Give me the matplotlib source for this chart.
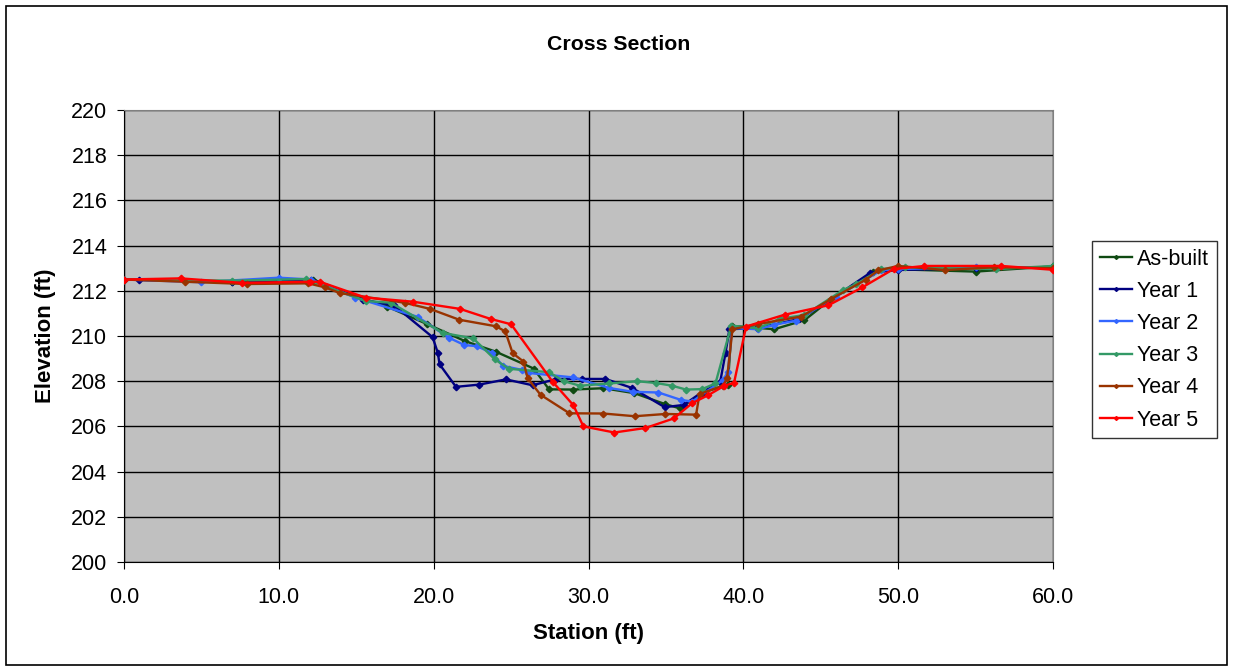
import matplotlib.pyplot as plt
from matplotlib.patches import Rectangle

plt.rcParams['font.family'] = ['Liberation Sans', 'DejaVu Sans']

# station (ft), elevation (ft) for each survey
asbuilt_x = [0.0, 7.0, 12.2, 15.5, 17.0, 19.6, 22.0, 24.0, 26.46, 27.45, 28.98, 30.96, 32.97,
             34.97, 35.9, 37.4, 39.0, 39.25, 42.0, 43.95, 45.46, 48.35, 50.0, 55.0, 60.0]
asbuilt_y = [212.5, 212.4, 212.5, 211.65, 211.3, 210.52, 209.78, 209.31, 208.56, 207.64, 207.63,
             207.69, 207.47, 206.98, 206.8, 207.5, 207.85, 210.45, 210.3, 210.7, 211.52, 212.82,
             212.95, 212.85, 213.08]

year1_x = [0.0, 1.0, 7.0, 12.1, 15.45, 17.45, 19.93, 20.27, 20.38, 21.44, 22.95, 24.67, 26.39,
           27.93, 29.58, 31.09, 32.82, 34.92, 36.15, 37.3, 38.5, 38.85, 39.1, 40.9, 43.6, 45.46,
           48.2, 50.0, 55.0, 60.0]
year1_y = [212.5, 212.48, 212.4, 212.5, 211.6, 211.35, 209.95, 209.25, 208.75, 207.75, 207.85,
           208.08, 207.82, 208.1, 208.1, 208.1, 207.7, 206.85, 206.95, 207.5, 207.95, 209.25,
           210.3, 210.35, 210.75, 211.52, 212.8, 212.92, 213.0, 213.05]

year2_x = [0.0, 5.0, 10.0, 12.07, 14.93, 18.96, 20.97, 21.98, 22.8, 23.77, 24.46, 25.7, 26.07,
           28.98, 31.35, 32.86, 34.52, 35.98, 36.7, 38.68, 39.0, 39.28, 40.94, 42.0, 43.4, 45.96,
           48.9, 50.0, 55.0, 60.0]
year2_y = [212.5, 212.38, 212.58, 212.5, 211.7, 210.85, 209.93, 209.6, 209.55, 209.24, 208.68,
           208.5, 208.37, 208.17, 207.7, 207.53, 207.5, 207.17, 207.1, 208.05, 208.4, 210.35,
           210.3, 210.5, 210.68, 211.74, 212.9, 212.96, 213.04, 213.04]

year3_x = [0.0, 7.0, 11.74, 15.6, 17.24, 20.58, 22.56, 23.95, 24.84, 27.45, 28.4, 29.45, 31.35,
           33.15, 34.37, 35.4, 36.3, 37.34, 38.2, 39.22, 40.94, 42.34, 43.95, 46.43, 47.3, 48.9,
           50.42, 56.35, 60.0]
year3_y = [212.5, 212.45, 212.52, 211.55, 211.47, 210.14, 209.89, 208.97, 208.55, 208.4, 208.0,
           207.8, 207.9, 208.0, 207.92, 207.8, 207.63, 207.65, 207.9, 210.46, 210.34, 210.76,
           210.93, 212.03, 212.3, 212.96, 213.04, 212.96, 213.1]

year4_x = [0.0, 3.94, 7.93, 11.9, 13.0, 13.94, 18.13, 19.76, 21.65, 24.03, 24.63, 25.1, 25.8,
           26.07, 26.9, 28.77, 30.96, 32.99, 34.97, 36.95, 37.17, 38.68, 38.95, 39.3, 40.94,
           43.74, 45.68, 47.94, 48.7, 50.0, 53.0, 56.2, 60.0]
year4_y = [212.5, 212.4, 212.3, 212.33, 212.15, 211.9, 211.47, 211.2, 210.72, 210.43, 210.2,
           209.24, 208.87, 208.13, 207.4, 206.58, 206.57, 206.45, 206.55, 206.52, 207.43, 207.8,
           208.13, 210.3, 210.53, 210.86, 211.64, 212.5, 212.9, 213.1, 212.92, 213.04, 213.0]

year5_x = [0.0, 3.66, 7.65, 12.0, 12.65, 15.6, 18.64, 21.7, 23.7, 25.0, 27.69, 29.02, 29.67,
           31.67, 33.68, 35.5, 36.7, 37.7, 38.78, 39.4, 40.18, 42.66, 45.5, 47.68, 49.7, 51.7,
           56.67, 60.0]
year5_y = [212.5, 212.55, 212.35, 212.4, 212.4, 211.7, 211.52, 211.2, 210.75, 210.52, 207.97,
           206.94, 206.0, 205.73, 205.93, 206.35, 207.03, 207.37, 207.8, 207.93, 210.42, 210.94,
           211.36, 212.15, 212.96, 213.1, 213.1, 212.93]

labels = ['As-built', 'Year 1', 'Year 2', 'Year 3', 'Year 4', 'Year 5']
colors = ['#0f4a12', '#000080', '#3366ff', '#339966', '#993300', '#ff0000']
xs = [asbuilt_x, year1_x, year2_x, year3_x, year4_x, year5_x]
ys = [asbuilt_y, year1_y, year2_y, year3_y, year4_y, year5_y]

W, H = 1233, 671
fig = plt.figure(figsize=(W / 100, H / 100), dpi=100)
ax = fig.add_axes([124 / W, 1 - 562 / H, 929 / W, 452 / H])
ax.set_facecolor('#c0c0c0')

for x, y, lab, c in zip(xs, ys, labels, colors):
    ax.plot(x, y, color=c, lw=1.7, marker='D', ms=3.3, label=lab, zorder=3)

ax.set_xlim(0, 60)
ax.set_ylim(200, 220)
ax.set_xticks(range(0, 61, 10))
ax.set_xticklabels(['%.1f' % v for v in range(0, 61, 10)])
ax.set_yticks(range(200, 221, 2))
ax.grid(True, color='black', lw=1.0, zorder=1)
ax.set_axisbelow(True)
for s in ['top', 'right']:
    ax.spines[s].set_color('#808080')
for s in ['left', 'bottom']:
    ax.spines[s].set_color('black')
ax.tick_params(labelsize=15.5, length=5, direction='out')
ax.tick_params(axis='y', pad=7)
ax.tick_params(axis='x', pad=13)

fig.text(619 / W, 1 - 45 / H, 'Cross Section', fontsize=15.3, fontweight='bold',
         ha='center', va='center')
ax.set_xlabel('Station (ft)', fontsize=16, fontweight='bold')
ax.set_ylabel('Elevation (ft)', fontsize=16, fontweight='bold')
ax.xaxis.set_label_coords(0.5, -(633 - 562) / 452)
ax.yaxis.set_label_coords(-(124 - 45) / 929, 0.5)
ax.xaxis.label.set_va('center')
ax.yaxis.label.set_va('center')

leg = ax.legend(loc='upper left', bbox_to_anchor=(1092 / W, 1 - 241 / H),
                bbox_transform=fig.transFigure, fontsize=15.5, frameon=True,
                fancybox=False, edgecolor='black', handlelength=1.5, handletextpad=0.25,
                labelspacing=0.52, borderpad=0.35, borderaxespad=0, markerscale=0.6)
leg.get_frame().set_linewidth(1.0)

fig.patches.append(Rectangle((6 / W, 6 / H), 1221 / W, 659 / H,
                             transform=fig.transFigure, fill=False, edgecolor='black',
                             lw=1.2))

fig.savefig('out.png', dpi=100)
